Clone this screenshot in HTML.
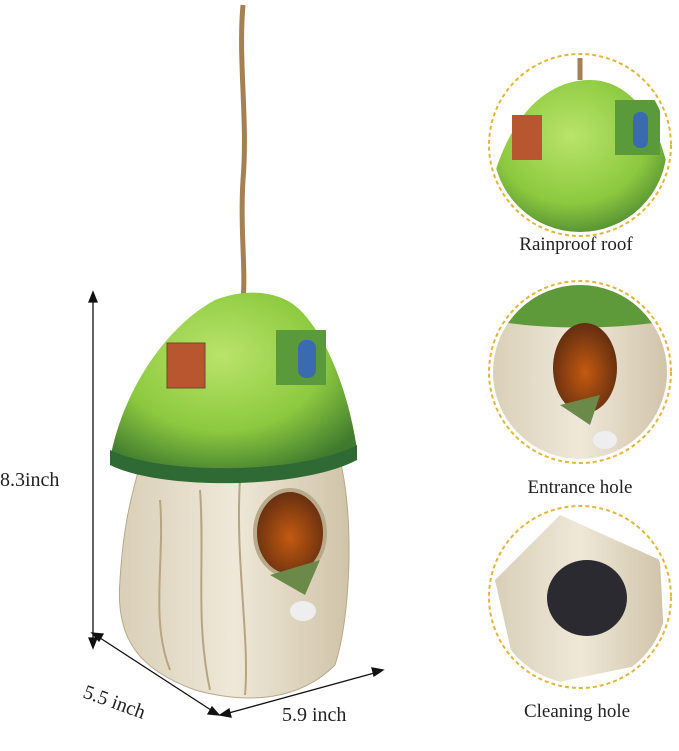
<!DOCTYPE html>
<html><head><meta charset="utf-8"><style>
html,body{margin:0;padding:0;background:#fff;width:679px;height:751px;overflow:hidden}
svg{display:block}
text{font-family:"Liberation Serif",serif;fill:#222}
</style></head><body>
<svg width="679" height="751" viewBox="0 0 679 751">
<defs>
<radialGradient id="cap" cx="0.45" cy="0.35" r="0.7"><stop offset="0" stop-color="#b9e46a"/><stop offset="0.6" stop-color="#8cc93f"/><stop offset="1" stop-color="#3f7a2e"/></radialGradient>
<linearGradient id="trunk" x1="0" y1="0" x2="1" y2="0"><stop offset="0" stop-color="#d9cfb8"/><stop offset="0.5" stop-color="#efe8d8"/><stop offset="1" stop-color="#cfc3a8"/></linearGradient>
<radialGradient id="hole" cx="0.5" cy="0.55" r="0.6"><stop offset="0" stop-color="#c45a10"/><stop offset="1" stop-color="#5a2a10"/></radialGradient>
<clipPath id="c1"><circle cx="580" cy="145" r="87"/></clipPath>
<clipPath id="c2"><circle cx="580" cy="372" r="87"/></clipPath>
<clipPath id="c3"><circle cx="580" cy="597" r="87"/></clipPath>
</defs>
<path d="M243 5 C238 60 248 120 243 180 C240 230 246 270 243 300" stroke="#a58052" stroke-width="5" fill="none"/>
<path d="M140 465 L340 460 C355 520 350 620 335 665 C300 700 250 705 195 690 C140 670 115 640 120 580 C123 530 130 500 140 465Z" fill="url(#trunk)" stroke="#b8a98a"/>
<path d="M160 500 C165 560 150 620 170 670 M200 490 C205 560 195 620 210 690 M240 480 C235 560 250 640 245 695" stroke="#b5a585" stroke-width="2" fill="none"/>
<ellipse cx="290" cy="533" rx="35" ry="43" fill="url(#hole)" stroke="#b8a98a" stroke-width="4"/>
<path d="M270 575 L320 560 L305 595Z" fill="#6b8a4a"/>
<ellipse cx="303" cy="611" rx="13" ry="10" fill="#eee"/>
<path d="M110 460 C120 400 160 330 215 300 C245 288 280 290 300 310 C330 340 350 400 357 450 C330 475 150 480 110 460Z" fill="url(#cap)"/>
<path d="M110 450 C160 475 300 475 357 445 L357 460 C300 490 160 490 110 465Z" fill="#2f6a35"/>
<rect x="167" y="343" width="38" height="45" fill="#b8562f" stroke="#6a4a30"/>
<rect x="276" y="330" width="50" height="55" fill="#5a9a3a"/>
<rect x="298" y="340" width="18" height="38" rx="8" fill="#3a6bb0"/>
<g stroke="#111" stroke-width="1.3" fill="#111">
<line x1="93" y1="297" x2="93" y2="643"/>
<path d="M93 292 l-4 10 h8Z"/><path d="M93 648 l-4 -10 h8Z"/>
<line x1="97" y1="636" x2="214" y2="712"/>
<path d="M92 633 l11 1 l-4 7Z"/><path d="M219 715 l-11 -1 l4 -7Z"/>
<line x1="225" y1="714" x2="378" y2="672"/>
<path d="M220 715 l9 -6 l2 8Z"/><path d="M383 670 l-9 6 l-2 -8Z"/>
</g>
<text x="0" y="486" font-size="20">8.3inch</text>
<text x="82" y="697" font-size="20" transform="rotate(20 82 697)">5.5 inch</text>
<text x="282" y="721" font-size="20">5.9 inch</text>
<g clip-path="url(#c1)"><rect x="490" y="55" width="180" height="180" fill="#fff"/>
<path d="M490 190 C510 110 550 80 590 80 C630 80 660 120 670 180 L670 240 L490 240Z" fill="url(#cap)"/>
<rect x="512" y="115" width="30" height="45" fill="#b8562f"/><rect x="615" y="100" width="45" height="55" fill="#5a9a3a"/><rect x="633" y="112" width="15" height="36" rx="7" fill="#3a6bb0"/>
<path d="M580 55 L580 80" stroke="#a58052" stroke-width="5"/></g>
<circle cx="580" cy="145" r="91" fill="none" stroke="#e3b53b" stroke-width="2" stroke-dasharray="4 3"/>
<g clip-path="url(#c2)"><rect x="490" y="282" width="180" height="180" fill="url(#trunk)"/>
<path d="M490 282 H670 V320 C620 330 540 330 490 320Z" fill="#5e9a3a"/>
<ellipse cx="585" cy="368" rx="32" ry="45" fill="url(#hole)"/>
<path d="M560 405 L600 395 L590 425Z" fill="#6b8a4a"/><ellipse cx="605" cy="440" rx="12" ry="9" fill="#eee"/></g>
<circle cx="580" cy="372" r="91" fill="none" stroke="#e3b53b" stroke-width="2" stroke-dasharray="4 3"/>
<g clip-path="url(#c3)"><rect x="490" y="507" width="180" height="180" fill="#fff"/>
<path d="M495 580 L560 515 L660 560 L665 660 L520 690 Z" fill="url(#trunk)"/>
<ellipse cx="587" cy="598" rx="40" ry="38" fill="#2a2a30"/></g>
<circle cx="580" cy="597" r="91" fill="none" stroke="#e3b53b" stroke-width="2" stroke-dasharray="4 3"/>
<text x="576" y="250" font-size="19" text-anchor="middle">Rainproof roof</text>
<text x="580" y="493" font-size="19" text-anchor="middle">Entrance hole</text>
<text x="577" y="717" font-size="19" text-anchor="middle">Cleaning hole</text>
</svg>
</body></html>
